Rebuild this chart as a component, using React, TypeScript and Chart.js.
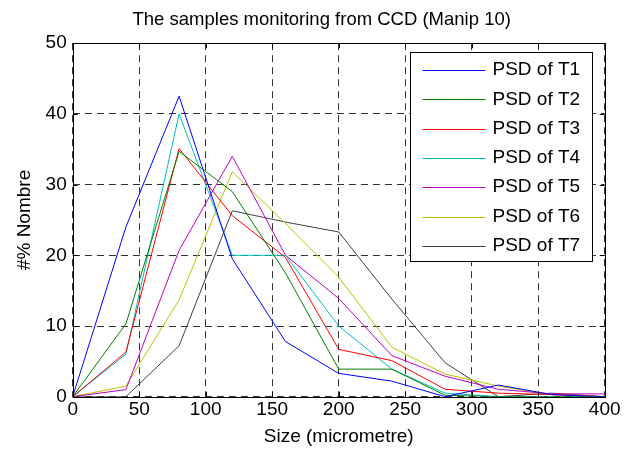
import React, { useEffect, useRef } from "react";
import { Chart, registerables } from "chart.js";

Chart.register(...registerables);

const sizes = [0, 40, 80, 120, 160, 200, 240, 280, 320, 360, 400];
const psdT1 = [0, 24, 42.5, 19.5, 7.8, 3.3, 2.2, 0, 1.65, 0.3, 0];
const psdT2 = [0, 10.3, 34.7, 29, 17.5, 3.9, 3.9, 0.2, 0, 0, 0];
const psdT3 = [0, 6.3, 35.1, 25.6, 19.7, 6.7, 5.1, 1.05, 0.5, 0.3, 0];
const psdT4 = [0, 6.0, 40, 20, 20, 10, 3.9, 0.5, 0, 0, 0];
const psdT5 = [0, 1.0, 20.7, 34, 20, 13.9, 5.8, 2.9, 1.05, 0.4, 0.4];
const psdT6 = [0, 1.5, 13.7, 31.8, 24.5, 16.9, 7.0, 3.2, 1.5, 0.3, 0];
const psdT7 = [0, 0, 7.2, 26.3, 24.7, 23.3, 13.8, 4.8, 0, 0.5, 0];

const seriesLabels = ["PSD of T1", "PSD of T2", "PSD of T3", "PSD of T4", "PSD of T5", "PSD of T6", "PSD of T7"];
const seriesColors = ["#0000ff", "#008000", "#ff0000", "#00bfbf", "#bf00bf", "#bfbf00", "#404040"];
const seriesValues = [psdT1, psdT2, psdT3, psdT4, psdT5, psdT6, psdT7];

const titleText = "The samples monitoring from CCD (Manip 10)";
const xTitle = "Size (micrometre)";
const yTitle = "#% Nombre";

const FONT = "'Liberation Sans', Arial, sans-serif";

const framePlugin = {
  id: "framePlugin",
  afterDraw(chart: any) {
    const { ctx, chartArea } = chart;
    const { left, right, top, bottom } = chartArea;
    const xs = chart.scales.x;
    const ys = chart.scales.y;
    ctx.save();
    // box
    ctx.strokeStyle = "#000";
    ctx.lineWidth = 1;
    ctx.setLineDash([]);
    ctx.strokeRect(Math.round(left) + 0.5, Math.round(top) + 0.5, Math.round(right - left), Math.round(bottom - top));
    // inward ticks
    const tl = 5;
    ctx.beginPath();
    xs.ticks.forEach((t: any) => {
      const px = Math.round(xs.getPixelForValue(t.value)) + 0.5;
      ctx.moveTo(px, bottom);
      ctx.lineTo(px, bottom - tl);
      ctx.moveTo(px, top);
      ctx.lineTo(px, top + tl);
    });
    ys.ticks.forEach((t: any) => {
      const py = Math.round(ys.getPixelForValue(t.value)) + 0.5;
      ctx.moveTo(left, py);
      ctx.lineTo(left + tl, py);
      ctx.moveTo(right, py);
      ctx.lineTo(right - tl, py);
    });
    ctx.stroke();

    // title
    ctx.fillStyle = "#000";
    ctx.font = `18.5px ${FONT}`;
    ctx.textAlign = "center";
    ctx.textBaseline = "middle";
    ctx.fillText(titleText, (left + right) / 2 - 17, 20);

    // legend
    const lx = right - 13;
    const bw = 182;
    const bh = 209;
    const bx = Math.round(lx - bw) + 0.5;
    const by = Math.round(top + 9) + 0.5;
    ctx.fillStyle = "#fff";
    ctx.fillRect(bx, by, bw, bh);
    ctx.strokeStyle = "#000";
    ctx.lineWidth = 1;
    ctx.strokeRect(bx, by, bw, bh);
    ctx.font = `19px ${FONT}`;
    ctx.textAlign = "left";
    ctx.textBaseline = "middle";
    seriesLabels.forEach((lab, i) => {
      const cy = by + 17.5 + i * 29.3;
      ctx.strokeStyle = seriesColors[i];
      ctx.lineWidth = 1.2;
      ctx.beginPath();
      ctx.moveTo(bx + 12, Math.round(cy) + 0.5);
      ctx.lineTo(bx + 75, Math.round(cy) + 0.5);
      ctx.stroke();
      ctx.fillStyle = "#000";
      ctx.fillText(lab, bx + 82, cy);
    });
    ctx.restore();
  },
};

export default function App() {
  const ref = useRef<HTMLCanvasElement | null>(null);
  useEffect(() => {
    if (!ref.current) return;
    const chart = new Chart(ref.current, {
      type: "line",
      data: {
        datasets: seriesValues.map((vals, i) => ({
          label: seriesLabels[i],
          data: sizes.map((s, j) => ({ x: s, y: vals[j] })),
          borderColor: seriesColors[i],
          backgroundColor: seriesColors[i],
          borderWidth: 1,
          pointRadius: 0,
          fill: false,
          tension: 0,
        })),
      },
      options: {
        animation: false,
        responsive: false,
        maintainAspectRatio: false,
        layout: { padding: { top: 43.2, right: 35.3, left: 0, bottom: 0 } },
        plugins: {
          legend: { display: false },
          title: { display: false },
          tooltip: { enabled: false },
        },
        scales: {
          x: {
            type: "linear",
            min: 0,
            max: 400,
            ticks: { stepSize: 50, color: "#000", font: { family: FONT, size: 19 }, padding: 2, maxRotation: 0 },
            grid: { color: "#333", lineWidth: 1, drawTicks: false },
            border: { display: false, dash: [7, 5] },
            title: { display: true, text: xTitle, color: "#000", font: { family: FONT, size: 19 }, padding: { top: 0, bottom: 4.6 } },
            afterFit: (s: any) => { s.height = 56.3; },
          },
          y: {
            type: "linear",
            min: 0,
            max: 50,
            ticks: { stepSize: 10, color: "#000", font: { family: FONT, size: 19 }, padding: 6 },
            grid: { color: "#333", lineWidth: 1, drawTicks: false },
            border: { display: false, dash: [7, 5] },
            title: { display: true, text: yTitle, color: "#000", font: { family: FONT, size: 19 }, padding: { top: 13.6, bottom: 0 } },
            afterFit: (s: any) => { s.width = 72.7; },
          },
        },
      },
      plugins: [framePlugin],
    } as any);
    return () => chart.destroy();
  }, []);
  return (
    <div style={{ position: "absolute", left: 0, top: 0, width: 640, height: 453, background: "#fff" }}>
      <canvas ref={ref} width={640} height={453} style={{ width: 640, height: 453, display: "block" }} />
    </div>
  );
}
